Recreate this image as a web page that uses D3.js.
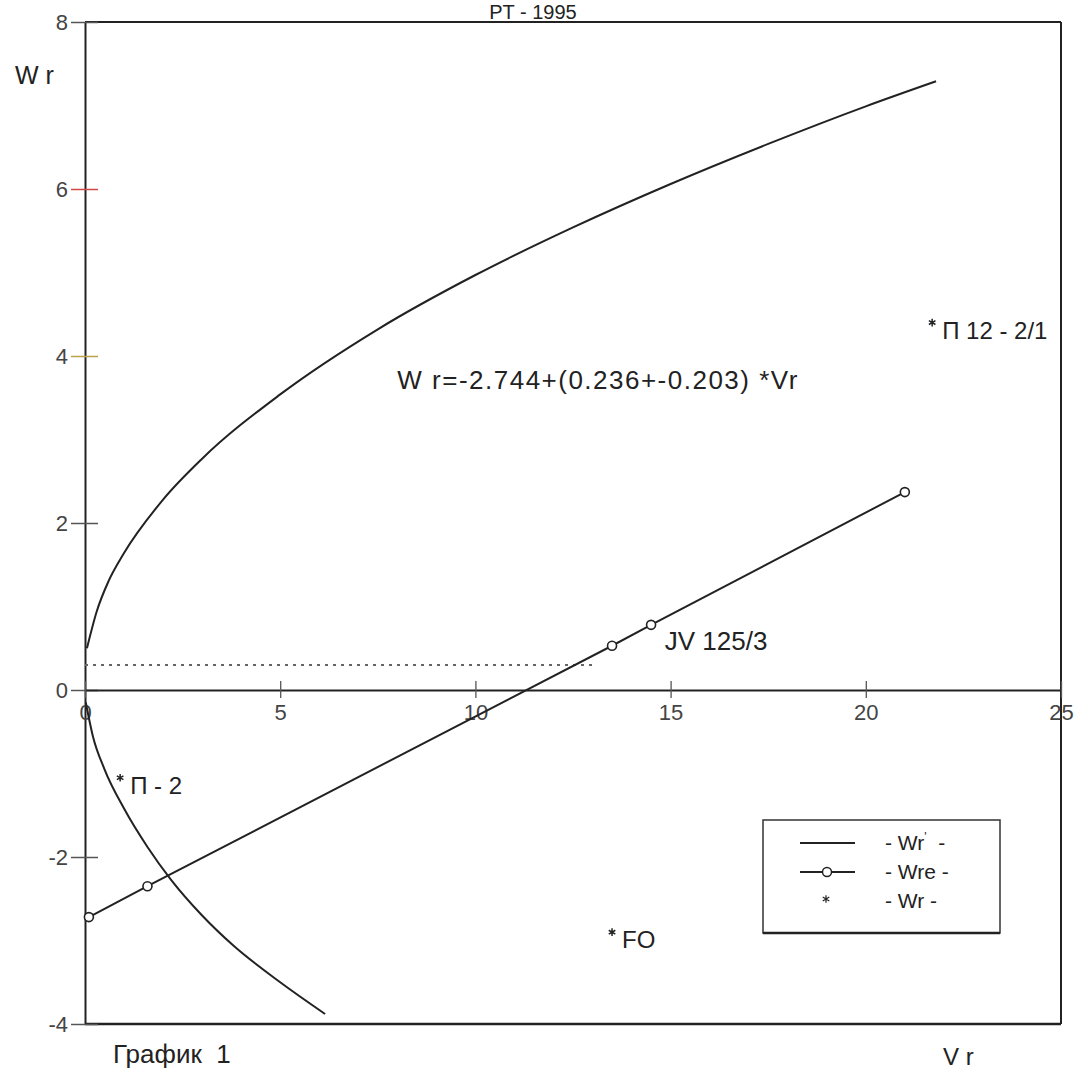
<!DOCTYPE html>
<html><head><meta charset="utf-8">
<script src="https://cdn.jsdelivr.net/npm/d3@7"></script>
<style>body{margin:0;background:#fff}svg{display:block}text{font-family:"Liberation Sans",Arial,sans-serif}</style>
</head><body><svg id="c" width="1077" height="1072"></svg>
<script>
// ---- data ----
const xTicks = [0, 5, 10, 15, 20, 25];
const yTicks = [-4, -2, 0, 2, 4, 6, 8];
const wrPrimeUpperV = [0.05, 0.3, 0.6, 1, 2, 3, 5, 7.5, 10, 12.5, 15, 17.5, 20, 21.8];
const wrPrimeUpper  = [0.5, 0.94, 1.3, 1.64, 2.28, 2.77, 3.54, 4.32, 4.97, 5.54, 6.06, 6.54, 6.99, 7.29];
const wrPrimeLowerV = [0.02, 0.2, 0.5, 1.0, 1.6, 2.2, 3, 3.8, 5, 6.15];
const wrPrimeLower  = [-0.15, -0.55, -0.95, -1.42, -1.88, -2.27, -2.7, -3.06, -3.5, -3.88];
const wreV = [0.1, 1.6, 13.5, 14.5, 21];
const wre  = [-2.72, -2.35, 0.53, 0.78, 2.37];
const wrNames = ["П - 2", "П 12 - 2/1", "FO"];
const wrV     = [0.9, 21.7, 13.5];
const wrVals  = [-1.05, 4.4, -2.9];
const refLevel = 0.3, refLevelEndV = 13.0;
const legendLabels = ["Wr'", "Wre", "Wr"];

// ---- drawing ----
const svg = d3.select("#c");
const x = d3.scaleLinear().domain([0, 25]).range([85, 1061]);
const y = d3.scaleLinear().domain([-4, 8]).range([1024, 22]);
const ink = "#222";

// frame
const g = svg.append("g");
g.append("line").attr("x1", x(0)).attr("x2", x(25)).attr("y1", y(8)).attr("y2", y(8)).attr("stroke", ink).attr("stroke-width", 2);
g.append("line").attr("x1", x(25)).attr("x2", x(25)).attr("y1", y(8)).attr("y2", y(-4)).attr("stroke", ink).attr("stroke-width", 2);
g.append("line").attr("x1", x(0)).attr("x2", x(25)).attr("y1", y(-4)).attr("y2", y(-4)).attr("stroke", ink).attr("stroke-width", 2.5);

// y axis
const yAxis = d3.axisLeft(y).tickValues(yTicks).tickSizeInner(-13).tickSizeOuter(0).tickPadding(0).tickFormat(d => String(d));
const ya = svg.append("g").attr("transform", `translate(${x(0)},0)`).call(yAxis);
ya.select(".domain").attr("stroke", ink).attr("stroke-width", 2);
ya.selectAll(".tick line").attr("x1", -14).attr("x2", 13)
  .attr("stroke", d => d === 6 ? "#d04848" : d === 4 ? "#b9a24a" : "#555").attr("stroke-width", 1.5);
ya.selectAll(".tick text").attr("x", -17).attr("dy", "0.36em").attr("fill", "#444")
  .style("font-size", "22px").attr("font-family", null);

// x axis at y = 0
const xAxis = d3.axisBottom(x).tickValues(xTicks).tickSizeInner(8).tickSizeOuter(0).tickPadding(6).tickFormat(d => String(d));
const xa = svg.append("g").attr("transform", `translate(0,${y(0)})`).call(xAxis);
xa.select(".domain").attr("stroke", ink).attr("stroke-width", 2.2);
xa.selectAll(".tick line").attr("y1", -9).attr("y2", 8).attr("stroke", "#555").attr("stroke-width", 1.3);
xa.selectAll(".tick text").attr("fill", "#444").style("font-size", "22px").attr("font-family", null);

// reference dotted level
svg.append("line").attr("x1", x(0)).attr("x2", x(refLevelEndV)).attr("y1", y(refLevel)).attr("y2", y(refLevel))
  .attr("stroke", "#666").attr("stroke-width", 2).attr("stroke-dasharray", "3,5");

const line = d3.line().x(d => x(d[0])).y(d => y(d[1])).curve(d3.curveMonotoneX);
const upper = wrPrimeUpperV.map((v, i) => [v, wrPrimeUpper[i]]);
const lower = wrPrimeLowerV.map((v, i) => [v, wrPrimeLower[i]]);
const wreP = wreV.map((v, i) => [v, wre[i]]);

svg.append("path").datum(upper).attr("d", line).attr("fill", "none").attr("stroke", ink).attr("stroke-width", 2);
svg.append("path").datum(lower).attr("d", line).attr("fill", "none").attr("stroke", ink).attr("stroke-width", 2);
svg.append("path").datum(wreP).attr("d", d3.line().x(d => x(d[0])).y(d => y(d[1]))).attr("fill", "none").attr("stroke", ink).attr("stroke-width", 2);
svg.selectAll(".wreDot").data(wreP).join("circle").attr("class", "wreDot")
  .attr("cx", d => x(d[0])).attr("cy", d => y(d[1])).attr("r", 4.5)
  .attr("fill", "#fff").attr("stroke", ink).attr("stroke-width", 1.6);

// Wr points with labels
const wrP = wrV.map((v, i) => ({ v, w: wrVals[i], n: wrNames[i] }));
const star = d3.symbol().type(d3.symbolAsterisk).size(40);
svg.selectAll(".wrPt").data(wrP).join("path").attr("class", "wrPt")
  .attr("transform", d => `translate(${x(d.v)},${y(d.w)})`).attr("d", star)
  .attr("stroke", ink).attr("stroke-width", 1.5).attr("fill", "none");
svg.selectAll(".wrLbl").data(wrP).join("text").attr("class", "wrLbl")
  .attr("x", d => x(d.v) + 10).attr("y", d => y(d.w) + 16)
  .attr("fill", "#222").style("font-size", "24px").text(d => d.n);

// annotations
svg.append("text").attr("x", x(8.0)).attr("y", y(3.6)).attr("fill", "#222").style("font-size", "26px")
  .attr("textLength", 400).text("W r=-2.744+(0.236+-0.203) *Vr");
svg.append("text").attr("x", x(14.85)).attr("y", y(0.48)).attr("fill", "#222").style("font-size", "26px").text("JV 125/3");

// titles
svg.append("text").attr("x", 533).attr("y", 19).attr("text-anchor", "middle").attr("fill", "#222").style("font-size", "20px").text("PT - 1995");
svg.append("text").attr("x", 15).attr("y", 84).attr("fill", "#222").style("font-size", "25px").text("W r");
svg.append("text").attr("x", 943).attr("y", 1065).attr("fill", "#222").style("font-size", "24px").text("V r");
svg.append("text").attr("x", 113).attr("y", 1063).attr("fill", "#222").style("font-size", "26px").attr("xml:space", "preserve").text("График  1");

// legend
const lg = svg.append("g").attr("transform", "translate(763,820)");
lg.append("rect").attr("width", 237).attr("height", 113).attr("fill", "#fff").attr("stroke", "#333").attr("stroke-width", 1.5);
lg.append("line").attr("x1", 0).attr("x2", 237).attr("y1", 113).attr("y2", 113).attr("stroke", "#222").attr("stroke-width", 2.5);
const rows = [23, 52, 81];
legendLabels.forEach((lab, i) => {
  const ry = rows[i];
  if (i < 2) lg.append("line").attr("x1", 37).attr("x2", 92).attr("y1", ry).attr("y2", ry).attr("stroke", ink).attr("stroke-width", 1.8);
  if (i === 1) lg.append("circle").attr("cx", 64).attr("cy", ry).attr("r", 4.5).attr("fill", "#fff").attr("stroke", ink).attr("stroke-width", 1.5);
  if (i === 2) lg.append("path").attr("transform", `translate(63,${ry - 2})`).attr("d", star).attr("stroke", ink).attr("stroke-width", 1.2).attr("fill", "none");
  const t = lg.append("text").attr("x", 122).attr("y", ry + 7).attr("fill", "#222").style("font-size", "21px").attr("xml:space", "preserve");
  if (i === 0) {
    t.append("tspan").text("- Wr");
    t.append("tspan").attr("dy", -9).style("font-size", "12px").text("'");
    t.append("tspan").attr("dy", 9).text("  -");
  } else {
    t.text("- " + lab + " -");
  }
});
</script></body></html>
